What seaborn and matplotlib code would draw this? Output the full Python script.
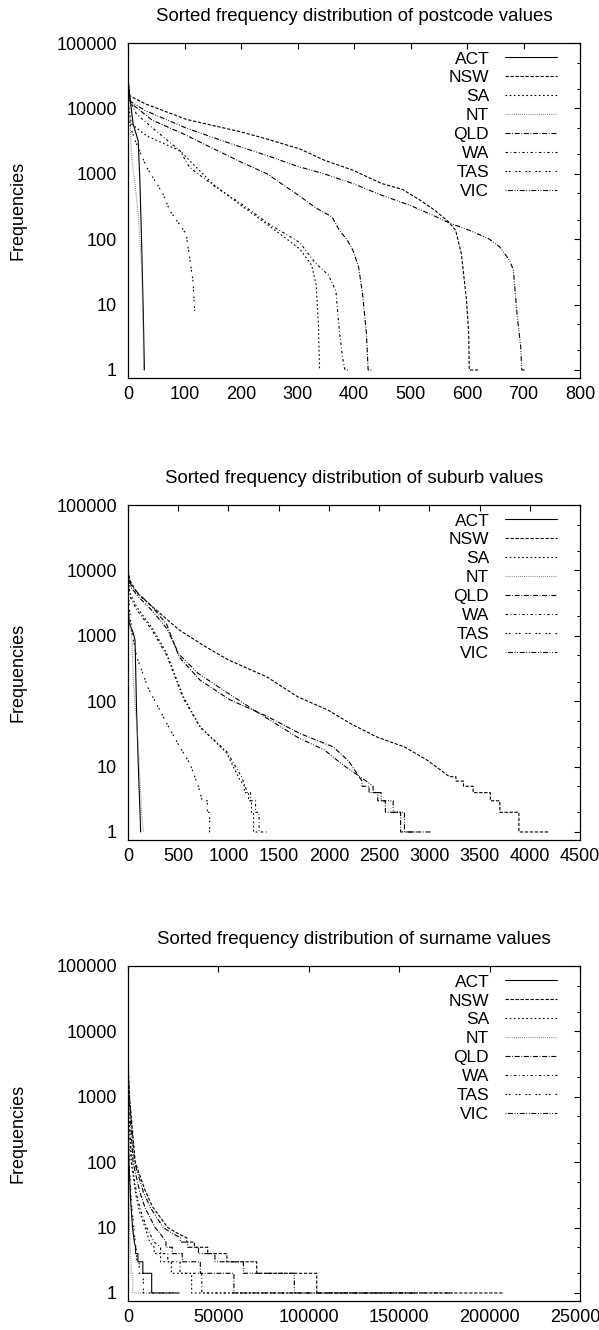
import pandas as pd
import seaborn as sns
import matplotlib.pyplot as plt
from matplotlib.ticker import LogLocator, NullFormatter, MultipleLocator, StrMethodFormatter

states = ['ACT', 'NSW', 'SA', 'NT', 'QLD', 'WA', 'TAS', 'VIC']

# ---- postcode: rank of value vs its frequency
pc_rank_ACT = [0, 2, 9, 18, 21, 24, 27, 29]
pc_freq_ACT = [30000, 18600, 5800, 3200, 800, 95, 8, 1]
pc_rank_NSW = [0, 3, 30, 103, 200, 246, 304, 347, 398, 449, 486, 516, 543, 567, 580, 590, 599, 603, 604, 621]
pc_freq_NSW = [28000, 15600, 11800, 6800, 4370, 3400, 2400, 1620, 1135, 710, 575, 400, 277, 185, 137, 60, 12, 3.6, 1, 1]
pc_rank_SA = [0, 6, 33, 92, 150, 200, 250, 304, 325, 333, 337, 339]
pc_freq_SA = [12000, 5800, 3800, 2250, 700, 330, 160, 71, 40, 20, 5, 1]
pc_rank_NT = [0, 3, 6, 13, 18, 24, 26.5, 27.7]
pc_freq_NT = [15000, 9300, 2000, 630, 245, 40, 5, 1]
pc_rank_QLD = [0, 5, 43, 100, 145, 200, 246, 300, 334, 361, 374, 388, 398, 408, 415, 422, 425, 432]
pc_freq_QLD = [20000, 12000, 6600, 4000, 2570, 1510, 1000, 480, 295, 220, 137, 97, 68, 38, 15, 3.6, 1, 1]
pc_rank_WA = [0, 15, 50, 92, 109, 156, 200, 250, 304, 330, 355, 368, 374, 380, 384, 391]
pc_freq_WA = [15000, 8200, 4500, 2250, 1250, 620, 350, 170, 89, 45, 28, 16, 4, 1.5, 1, 1]
pc_rank_TAS = [0, 5, 12, 33, 62, 74, 103, 109, 115, 118]
pc_freq_TAS = [9000, 5000, 3300, 1260, 490, 274, 120, 53, 23, 8]
pc_rank_VIC = [0, 3, 30, 103, 165, 200, 246, 300, 347, 398, 449, 499, 543, 570, 604, 638, 658, 675, 682, 689, 695, 697, 705]
pc_freq_VIC = [22000, 13000, 9300, 5000, 3250, 2560, 1900, 1300, 1000, 710, 470, 330, 225, 175, 137, 102, 76, 48, 34, 6.5, 2.3, 1, 1]

# ---- suburb
sb_rank_ACT = [0, 3, 13, 53, 70, 86, 105, 120, 126]
sb_freq_ACT = [10000, 2500, 1550, 1100, 850, 65, 8, 1.9, 1]
sb_rank_NSW = [0, 20, 91, 319, 509, 775, 1003, 1383, 1688, 1992, 2220, 2486, 2752, 2980, 3200, 3265, 3265, 3340, 3340,
               3436, 3436, 3607, 3607, 3702, 3702, 3892, 3892, 4196]
sb_freq_NSW = [10000, 7000, 4470, 2200, 1230, 675, 425, 235, 117, 73, 45, 28, 20, 12.5, 7, 7, 6, 6, 5,
               5, 4, 4, 3, 3, 2, 2, 1, 1]
sb_rank_SA = [0, 20, 86, 243, 385, 551, 717, 983, 1115, 1160, 1160, 1200, 1200, 1230, 1230, 1250, 1250, 1290]
sb_freq_SA = [8000, 4500, 2770, 1300, 540, 117, 41, 16, 6.2, 5, 4, 4, 3, 3, 2, 2, 1, 1]
sb_rank_NT = [0, 5, 37, 53, 103, 136, 153]
sb_freq_NT = [5000, 1500, 1070, 210, 20, 1.9, 1]
sb_rank_QLD = [0, 30, 100, 243, 385, 509, 717, 1015, 1380, 1712, 2044, 2200, 2330, 2330, 2400, 2400, 2486, 2486,
               2562, 2562, 2714, 2714, 3018]
sb_freq_QLD = [9000, 6000, 4500, 2750, 1500, 475, 210, 105, 59, 32, 20, 12, 6, 5, 5, 4, 4, 3,
               3, 2, 2, 1, 1]
sb_rank_WA = [0, 20, 86, 243, 385, 551, 717, 983, 1130, 1190, 1220, 1220, 1270, 1270, 1305, 1305, 1380]
sb_freq_WA = [7000, 4000, 2500, 1200, 500, 110, 40, 17, 7, 4, 4, 3, 3, 2, 2, 1, 1]
sb_rank_TAS = [0, 20, 45, 86, 200, 385, 500, 617, 700, 740, 790, 790, 813, 813, 865]
sb_freq_TAS = [5000, 2000, 1000, 480, 160, 46, 22, 11, 5, 3, 3, 2, 2, 1, 1]
sb_rank_VIC = [0, 30, 100, 243, 385, 509, 700, 1003, 1307, 1688, 1954, 2144, 2372, 2440, 2440, 2520, 2520, 2640,
               2640, 2752, 2752, 2860]
sb_freq_VIC = [8000, 5500, 4000, 2400, 1300, 520, 265, 130, 65, 28, 18, 10.5, 6, 5, 4, 4, 3, 3,
               2, 2, 1, 1]

# ---- surname
sn_rank_ACT = [0, 50, 500, 1500, 2500, 3500, 4200, 4200, 5500, 5500, 8200, 8200, 13100, 13100, 28300]
sn_freq_ACT = [2500, 600, 100, 25, 10, 6, 5, 4, 4, 3, 3, 2, 2, 1, 1]
sn_rank_NSW = [0, 150, 850, 4000, 9300, 13500, 22000, 28000, 32500, 32500, 36700, 36700, 44100, 44100, 54700,
               54700, 71200, 71200, 104400, 104400, 207300]
sn_freq_NSW = [25000, 3000, 1000, 100, 38, 21, 10, 8, 7, 6, 6, 5, 5, 4, 4, 3, 3, 2, 2, 1, 1]
sn_rank_SA = [0, 80, 300, 1800, 4500, 6500, 9500, 12000, 14500, 14500, 18000, 18000, 24000, 24000, 35200, 35200, 90000]
sn_freq_SA = [8000, 1500, 600, 100, 30, 17, 10, 6, 5, 4, 4, 3, 3, 2, 2, 1, 1]
sn_rank_NT = [0, 30, 250, 800, 1200, 1700, 1700, 2600, 2600, 12000]
sn_freq_NT = [1500, 300, 50, 10, 5, 3, 2, 2, 1, 1]
sn_rank_QLD = [0, 100, 550, 2800, 6500, 9500, 15000, 18000, 21000, 21000, 24500, 24500, 30000, 30000, 40000,
               40000, 58600, 58600, 160000]
sn_freq_QLD = [15000, 2000, 1000, 100, 35, 20, 10, 8, 6, 5, 5, 4, 4, 3, 3, 2, 2, 1, 1]
sn_rank_WA = [0, 80, 350, 2000, 5000, 7000, 10300, 14500, 18000, 18000, 22000, 22000, 28800, 28800, 40800, 40800, 100000]
sn_freq_WA = [8000, 1500, 600, 100, 30, 18, 10, 6, 5, 4, 4, 3, 3, 2, 2, 1, 1]
sn_rank_TAS = [0, 50, 600, 1800, 3200, 4000, 4800, 4800, 6200, 6200, 8500, 8500, 25000]
sn_freq_TAS = [3000, 600, 100, 25, 10, 6, 4, 3, 3, 2, 2, 1, 1]
sn_rank_VIC = [0, 120, 700, 3600, 8500, 12500, 19500, 25000, 29000, 29000, 33000, 33000, 39000, 39000, 48100,
               48100, 63800, 63800, 92000, 92000, 180000]
sn_freq_VIC = [20000, 2500, 1000, 100, 35, 20, 10, 8, 7, 6, 6, 5, 5, 4, 4, 3, 3, 2, 2, 1, 1]

titles = ['Sorted frequency distribution of postcode values',
          'Sorted frequency distribution of suburb values',
          'Sorted frequency distribution of surname values']
x_max = [800, 4500, 250000]
x_step = [100, 500, 50000]


def build_frame(prefix):
    g = globals()
    parts = []
    for st in states:
        r = g[prefix + '_rank_' + st]
        f = g[prefix + '_freq_' + st]
        parts.append(pd.DataFrame({'rank': r, 'freq': f, 'state': st}))
    return pd.concat(parts, ignore_index=True)


frames = [build_frame('pc'), build_frame('sb'), build_frame('sn')]

# gnuplot-like monochrome line types
dash_map = {
    'ACT': '',
    'NSW': (2.4, 1.2),
    'SA': (1.2, 1.8),
    'NT': (0.6, 0.9),
    'QLD': (3.6, 1.2, 0.6, 1.2),
    'WA': (1.8, 1.8, 0.6, 1.8),
    'TAS': (1.2, 1.2, 1.2, 3.6),
    'VIC': (0.6, 1.2, 3.6, 1.2, 0.6, 1.2),
}
palette = {st: 'black' for st in states}
palette['NT'] = '#777777'

sns.set_theme(style='white')
plt.rcParams['font.family'] = ['Liberation Sans', 'DejaVu Sans']
plt.rcParams['lines.scale_dashes'] = False
plt.rcParams['text.color'] = 'black'
plt.rcParams['axes.labelcolor'] = 'black'
plt.rcParams['xtick.color'] = 'black'
plt.rcParams['ytick.color'] = 'black'

fig = plt.figure(figsize=(5.99, 13.30), dpi=100)
bottoms = [1 - 378 / 1330, 1 - 840 / 1330, 1 - 1301 / 1330]

for i, df in enumerate(frames):
    ax = fig.add_axes([128 / 599, bottoms[i], 452 / 599, 335 / 1330])
    sns.lineplot(data=df, x='rank', y='freq', hue='state', style='state',
                 hue_order=states, style_order=states, palette=palette,
                 dashes=dash_map, estimator=None, sort=False, legend=False,
                 linewidth=0.8, ax=ax)
    ax.set_yscale('log')
    ax.set_ylim(0.754, 100000)
    ax.set_xlim(0, x_max[i])
    ax.set_yticks([1, 10, 100, 1000, 10000, 100000])
    ax.set_yticklabels(['1', '10', '100', '1000', '10000', '100000'])
    ax.yaxis.set_minor_locator(LogLocator(base=10, subs=(2, 5)))
    ax.yaxis.set_minor_formatter(NullFormatter())
    ax.xaxis.set_major_locator(MultipleLocator(x_step[i]))
    ax.xaxis.set_major_formatter(StrMethodFormatter('{x:.0f}'))
    ax.tick_params(which='both', direction='in', top=True, right=True,
                   color='black', labelcolor='black', width=0.8, labelsize=13)
    ax.tick_params(which='major', length=4.5)
    ax.tick_params(which='minor', length=2.2)
    ax.tick_params(axis='y', pad=8)
    ax.tick_params(axis='x', pad=6)
    for sp in ax.spines.values():
        sp.set_color('black')
        sp.set_linewidth(0.9)
    ax.set_xlabel('')
    ax.set_ylabel('Frequencies', fontsize=13, color='black')
    ax.yaxis.set_label_coords(-0.225, 0.5)
    ax.set_title(titles[i], fontsize=13.4, pad=15.8, color='black')

    ax.legend(handles=ax.lines[:len(states)], labels=states, loc='upper right',
              bbox_to_anchor=(0.949, 0.975), frameon=False, markerfirst=False,
              fontsize=12.5, handlelength=3.0, handletextpad=0.9,
              labelspacing=0.22, borderpad=0, borderaxespad=0, labelcolor='black')

fig.savefig('out.png', dpi=100)
